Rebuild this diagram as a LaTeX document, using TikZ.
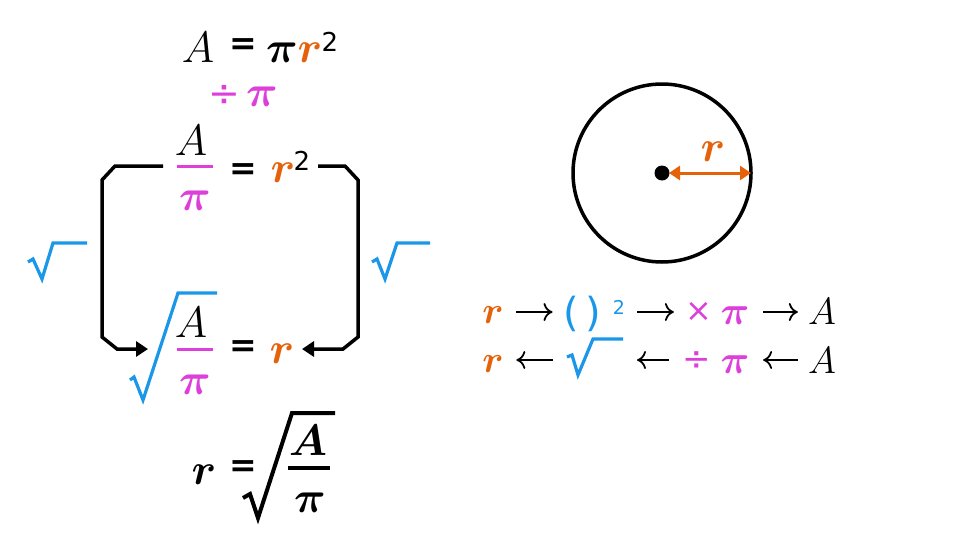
\documentclass[tikz,border=0pt]{standalone}
\usepackage{fix-cm}
\usepackage{amsmath}
\usepackage{fontspec}
\newfontfamily\dejavu{DejaVu Sans}
\usetikzlibrary{arrows.meta}
\definecolor{radiuscol}{HTML}{E5620B}
\definecolor{picol}{HTML}{DD3FDB}
\definecolor{rootcol}{HTML}{1B97E9}
\tikzstyle{term}=[inner sep=0pt, anchor=base, font=\fontsize{44}{44}\selectfont]
\tikzstyle{rowterm}=[term, font=\fontsize{38}{38}\selectfont]
\tikzstyle{sign}=[inner sep=0pt, font=\fontsize{33}{33}\selectfont\dejavu\bfseries]
\tikzstyle{opsign}=[inner sep=0pt, picol, font=\fontsize{38}{38}\selectfont\dejavu]
\tikzstyle{power}=[inner sep=0pt, font=\fontsize{26}{26}\selectfont\dejavu]
\tikzstyle{bar}=[line width=3pt]
\tikzstyle{radical}=[line width=3.2pt, line join=miter]
\tikzstyle{flow}=[line width=3.5pt, line join=miter, -{Triangle[length=12pt,width=15pt]}]
\tikzstyle{opflow}=[line width=1.8pt, -{Computer Modern Rightarrow[length=9pt,width=18pt]}]
\newcommand\bpi{\boldsymbol{\pi}}

\begin{document}
\begin{tikzpicture}[x=1pt, y=-1pt]
  \path[fill=white, use as bounding box] (0,0) rectangle (976,549);

  % A = pi r^2
  \node[term] (areaA) at (198,62) {$A$};
  \node[sign] (areaeq) at (243,47) {=};
  \node[term] (areapi) at (282,62) {$\bpi$};
  \node[term, radiuscol] (arear) at (310,62) {$\boldsymbol{r}$};
  \node[power] (areasq) at (330,42) {2};
  \node[opsign] (divop) at (224,96) {÷};
  \node[term, picol] (divpi) at (262,106) {$\bpi$};

  % A/pi = r^2
  \node[term] (fracA) at (191,155) {$A$};
  \draw[bar, picol] (177,166) -- (213,166);
  \node[term, picol] (fracpi) at (195,210) {$\bpi$};
  \node[sign] (fraceq) at (243,172) {=};
  \node[term, radiuscol] (fracr) at (283,182) {$\boldsymbol{r}$};
  \node[power] (fracsq) at (302,161) {2};

  % sqrt(A/pi) = r
  \draw[radical, rootcol] (130,380) -- (134,377) -- (143,400) -- (178,293) -- (217,293);
  \node[term] (rootA) at (191,337) {$A$};
  \draw[bar, picol] (177,349) -- (213,349);
  \node[term, picol] (rootpi) at (195,394) {$\bpi$};
  \node[sign] (rooteq) at (243,349) {=};
  \node[term, radiuscol] (rootr) at (282,363) {$\boldsymbol{r}$};

  % brackets
  \coordinate (leftstart) at (163,166);
  \coordinate (leftend) at (148,349);
  \coordinate (rightstart) at (318,166);
  \coordinate (rightend) at (302,349);
  \draw[flow] (leftstart) -- (115,166) -- (102,180) -- (102,337) -- (117,349) -- (leftend);
  \draw[flow] (rightstart) -- (345,166) -- (358,180) -- (358,337) -- (343,349) -- (rightend);
  \draw[radical, rootcol] (28,262) -- (33,259) -- (42,279) -- (53,243) -- (87,243);
  \draw[radical, rootcol] (372,262) -- (377,259) -- (385,279) -- (397,243) -- (430,243);

  % r = sqrt(A/pi)
  \node[term] (ansr) at (204,484) {$\boldsymbol{r}$};
  \node[sign] (anseq) at (243,469) {=};
  \draw[radical, line width=4pt] (243,498) -- (250,494) -- (258,518) -- (292,413) -- (335,413);
  \node[term] (ansA) at (308,455) {$\boldsymbol{A}$};
  \draw[bar, line width=3.5pt] (288,468) -- (330,468);
  \node[term] (anspi) at (310,512) {$\bpi$};

  % circle
  \draw[line width=3.5pt] (662,173) circle (89);
  \fill (662,173) circle (7.5);
  \node[term, radiuscol] (radius) at (713,161) {$\boldsymbol{r}$};
  \draw[line width=3pt, radiuscol, {Triangle[length=11pt,width=14pt]}-{Triangle[length=11pt,width=14pt]}] (669,173) -- (751,173);

  % r -> ( )^2 -> x pi -> A
  \coordinate (rowone) at (0,312);
  \coordinate (rowtwo) at (0,360);
  \node[rowterm, radiuscol] (fwdr) at (493,323) {$\boldsymbol{r}$};
  \node[inner sep=0pt, rootcol, font=\fontsize{40}{40}\selectfont\dejavu] (lpar) at (571,314) {(};
  \node[inner sep=0pt, rootcol, font=\fontsize{40}{40}\selectfont\dejavu] (rpar) at (593,314) {)};
  \node[power, rootcol, font=\fontsize{19}{19}\selectfont\dejavu] (fwdsq) at (619,307) {2};
  \node[opsign, font=\fontsize{32}{32}\selectfont\dejavu] (times) at (699,312) {×};
  \node[rowterm, picol, font=\fontsize{40}{40}\selectfont] (fwdpi) at (735,324) {$\bpi$};
  \node[rowterm] (fwdA) at (822,324) {$A$};
  \draw[opflow] ([xshift=12.5pt]fwdr.east |- rowone) -- ([xshift=-10.5pt]lpar.west |- rowone);
  \draw[opflow] ([xshift=12pt]fwdsq.east |- rowone) -- ([xshift=-11.5pt]times.west |- rowone);
  \draw[opflow] ([xshift=13.5pt]fwdpi.east |- rowone) -- ([xshift=-10pt]fwdA.west |- rowone);

  % r <- sqrt <- / pi <- A
  \node[rowterm, radiuscol] (backr) at (493,372) {$\boldsymbol{r}$};
  \draw[radical, rootcol] (567,357) -- (572,355) -- (578,375) -- (593,339) -- (623,339);
  \coordinate (rootleft) at (567,360);
  \coordinate (rootright) at (623,360);
  \node[opsign, font=\fontsize{34}{34}\selectfont\dejavu] (backdiv) at (697,361) {÷};
  \node[rowterm, picol, font=\fontsize{40}{40}\selectfont] (backpi) at (735,373) {$\bpi$};
  \node[rowterm] (backA) at (822,373) {$A$};
  \draw[opflow] ([xshift=-14pt]rootleft) -- ([xshift=12.5pt]backr.east |- rowtwo);
  \draw[opflow] ([xshift=-13.5pt]backdiv.west |- rowtwo) -- ([xshift=14pt]rootright);
  \draw[opflow] ([xshift=-10pt]backA.west |- rowtwo) -- ([xshift=13.5pt]backpi.east |- rowtwo);
\end{tikzpicture}
\end{document}
